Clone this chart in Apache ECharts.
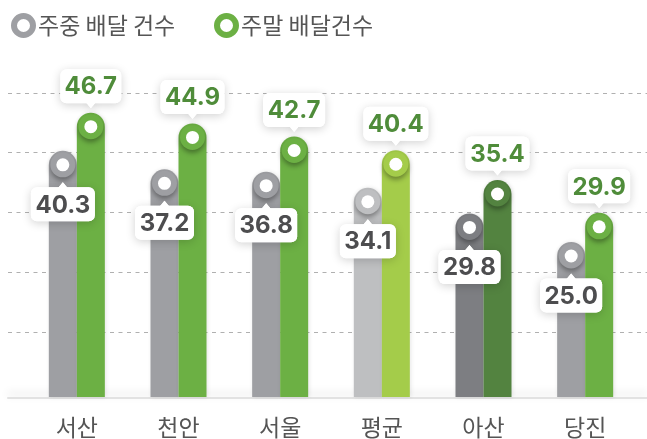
<!DOCTYPE html>
<html><head><meta charset="utf-8">
<script src="https://cdn.jsdelivr.net/npm/echarts@6/dist/echarts.min.js"></script>
<style>html,body{margin:0;padding:0;background:#fff}#c{width:647px;height:439px}</style>
</head><body><div id="c"></div>
<script>
// ---- data ----
const categories = ['서산', '천안', '서울', '평균', '아산', '당진'];
const weekdayValues = [40.3, 37.2, 36.8, 34.1, 29.8, 25.0];
const weekendValues = [46.7, 44.9, 42.7, 40.4, 35.4, 29.9];
const seriesNames = ['주중 배달 건수', '주말 배달건수'];

// ---- styles ----
const weekdayColors = ['#9e9fa3', '#9e9fa3', '#9e9fa3', '#bebfc1', '#7d7e82', '#9e9fa3'];
const weekendColors = ['#6cb044', '#6cb044', '#6cb044', '#a4cc4a', '#538340', '#6cb044'];
const BAR_W = 28;
const Y_MIN = -1, Y_MAX = 50;
const LABEL_FONT = 'bold 24px Inter, "Open Sans", sans-serif';
const KR_FONT = '"Noto Sans CJK KR", sans-serif';

const measureCtx = document.createElement('canvas').getContext('2d');
function textWidth(t) { measureCtx.font = LABEL_FONT; return measureCtx.measureText(t).width; }

function barRender(colors, side) {
  return function (params, api) {
    const i = api.value(0), v = api.value(1);
    const top = api.coord([i, v]);
    const base = api.coord([i, Y_MIN]);
    const cx = top[0] + side * BAR_W / 2;
    const c = colors[i];
    const r = BAR_W / 2;
    return {
      type: 'group', children: [
        { type: 'rect', shape: { x: cx - r, y: top[1], width: BAR_W, height: base[1] - top[1], r: [r, r, 0, 0] },
          style: { fill: c, shadowBlur: 4, shadowColor: 'rgba(0,0,0,0.10)', shadowOffsetX: 1 } },
        { type: 'circle', shape: { cx: cx, cy: top[1] + r, r: r - 1.5 },
          style: { fill: c, shadowBlur: 5, shadowColor: 'rgba(0,0,0,0.35)', shadowOffsetY: 3 } },
        { type: 'circle', shape: { cx: cx, cy: top[1] + r, r: 6.5 }, style: { fill: '#fff' } }
      ]
    };
  };
}

function labelRender(side, below, color) {
  return function (params, api) {
    const i = api.value(0), v = api.value(1);
    const top = api.coord([i, v]);
    const cx = top[0] + side * BAR_W / 2;
    const text = v.toFixed(1);
    const w = Math.round(textWidth(text)) + 9;
    const h = 34;
    let by, tri;
    if (below) {
      by = top[1] + 36.5;
      tri = [[cx - 5, by + 1], [cx + 5, by + 1], [cx, by - 5]];
    } else {
      by = top[1] - 9.5 - h;
      tri = [[cx - 5, by + h - 1], [cx + 5, by + h - 1], [cx, by + h + 5]];
    }
    const sh = { shadowBlur: 10, shadowColor: 'rgba(0,0,0,0.18)', shadowOffsetY: 2 };
    return {
      type: 'group', children: [
        { type: 'rect', shape: { x: cx - w / 2, y: by, width: w, height: h, r: 6 }, style: Object.assign({ fill: '#fff' }, sh) },
        { type: 'polygon', shape: { points: tri }, style: Object.assign({ fill: '#fff' }, sh) },
        { type: 'rect', shape: { x: cx - w / 2, y: by, width: w, height: h, r: 6 }, style: { fill: '#fff' } },
        { type: 'polygon', shape: { points: tri }, style: { fill: '#fff' } },
        { type: 'text', x: cx, y: by + h / 2 + 1, style: { text: text, font: LABEL_FONT, fill: color, align: 'center', verticalAlign: 'middle' } }
      ]
    };
  };
}

const legendBase = {
  top: 8, itemWidth: 19, itemHeight: 19, selectedMode: false,
  textStyle: { fontSize: 23, color: '#555', fontFamily: KR_FONT }
};

const chart = echarts.init(document.getElementById('c'), null, { renderer: 'canvas' });
chart.setOption({
  animation: false,
  backgroundColor: '#fff',
  legend: [
    Object.assign({}, legendBase, { left: 6, itemTextGap: 7,
      data: [{ name: seriesNames[0], icon: 'circle', itemStyle: { color: '#fff', borderColor: '#9e9fa3', borderWidth: 6 } }] }),
    Object.assign({}, legendBase, { left: 209, itemTextGap: 9,
      data: [{ name: seriesNames[1], icon: 'circle', itemStyle: { color: '#fff', borderColor: '#6cb044', borderWidth: 6 } }] })
  ],
  grid: [
    { left: 26, right: 11, top: 93, bottom: 41.5 },
    { left: 8, right: 0, top: 93, bottom: 47.5 }
  ],
  xAxis: [
    { type: 'category', gridIndex: 0, data: categories,
      axisLine: { show: false }, axisTick: { show: false },
      axisLabel: { margin: 19, fontSize: 23, color: '#555', fontFamily: KR_FONT } },
    { type: 'value', gridIndex: 1, min: 0, max: 1, axisLabel: { show: false }, axisTick: { show: false }, splitLine: { show: false },
      offset: 6,
      axisLine: { show: true, onZero: false, lineStyle: { color: '#e2e2e2', width: 2, shadowColor: 'rgba(0,0,0,0.16)', shadowBlur: 8, shadowOffsetY: -4 } } }
  ],
  yAxis: [
    { type: 'value', gridIndex: 0, min: Y_MIN, max: Y_MAX, show: false },
    { type: 'value', gridIndex: 1, min: 0, max: 50, interval: 10,
      axisLine: { show: false }, axisTick: { show: false }, axisLabel: { show: false },
      splitLine: { show: true, lineStyle: { type: [4, 4.5], width: 1, color: ['rgba(0,0,0,0)', '#b0b0b0', '#b0b0b0', '#b0b0b0', '#b0b0b0', '#b0b0b0'] } } }
  ],
  series: [
    { name: seriesNames[0], type: 'custom', xAxisIndex: 0, yAxisIndex: 0, itemStyle: { color: '#9e9fa3' },
      renderItem: barRender(weekdayColors, -1), encode: { x: 0, y: 1 },
      data: weekdayValues.map((v, i) => [i, v]), z: 2 },
    { name: seriesNames[1], type: 'custom', xAxisIndex: 0, yAxisIndex: 0, itemStyle: { color: '#6cb044' },
      renderItem: barRender(weekendColors, 1), encode: { x: 0, y: 1 },
      data: weekendValues.map((v, i) => [i, v]), z: 3 },
    { name: 'weekdayLabels', type: 'custom', xAxisIndex: 0, yAxisIndex: 0,
      renderItem: labelRender(-1, true, '#4d4d4f'), encode: { x: 0, y: 1 },
      data: weekdayValues.map((v, i) => [i, v]), z: 10 },
    { name: 'weekendLabels', type: 'custom', xAxisIndex: 0, yAxisIndex: 0,
      renderItem: labelRender(1, false, '#4f8c3a'), encode: { x: 0, y: 1 },
      data: weekendValues.map((v, i) => [i, v]), z: 10 }
  ]
});
</script>
</body></html>
